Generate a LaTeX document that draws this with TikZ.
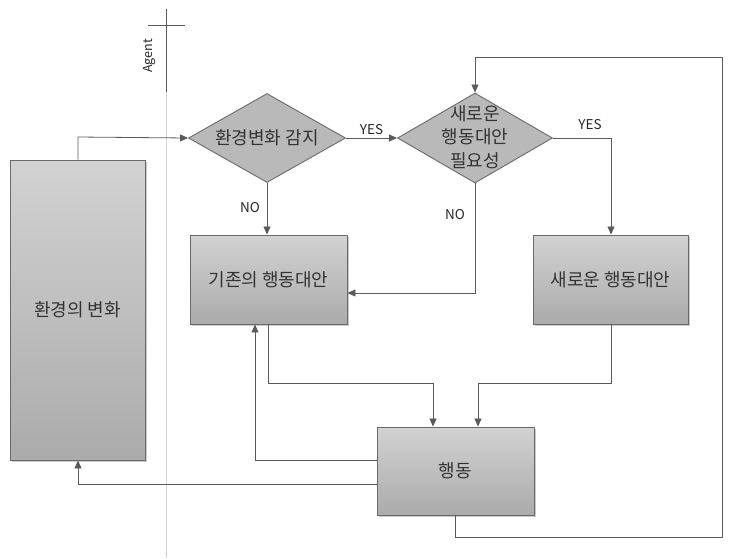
\documentclass[tikz,border=0pt]{standalone}
\usepackage{fontspec}
\setmainfont{Noto Sans CJK KR}
\usetikzlibrary{shapes.geometric,shadows,arrows.meta}
\definecolor{ln}{HTML}{5A5A5A}
\definecolor{bd}{HTML}{6A6A6A}
\definecolor{btop}{HTML}{D2D2D2}
\definecolor{bbot}{HTML}{ABABAB}
\definecolor{dfill}{HTML}{B9B9B9}
\tikzset{
  boxnode/.style={rectangle, draw=bd, line width=0.9pt, top color=btop, bottom color=bbot,
    inner sep=0pt, drop shadow={shadow xshift=2pt, shadow yshift=-2pt, fill=black!35, opacity=0.6},
    font=\fontsize{18}{22}\selectfont, text=black!80},
  dianode/.style={diamond, draw=bd, line width=0.9pt, fill=dfill, inner sep=0pt,
    minimum width=157pt, minimum height=89pt},
  dtext/.style={font=\fontsize{18}{22}\selectfont, text=black!80, align=center},
  lbl/.style={font=\fontsize{13.5}{16}\selectfont, text=black!85},
  conn/.style={draw=ln, line width=0.8pt},
  arr/.style={conn, -{Triangle[length=8pt,width=7pt]}},
}
\begin{document}
\begin{tikzpicture}[x=1pt,y=-1pt]
\useasboundingbox (0,0) rectangle (738,558);
% Agent lane
\draw[draw=black!18, line width=0.8pt] (166,92) -- (166,558);
\draw[draw=ln, line width=0.9pt] (166,9) -- (166,92);
\draw[draw=ln, line width=0.9pt] (148,25) -- (185,25);
\node[lbl, rotate=90, font=\fontsize{12.5}{14}\selectfont] (agent) at (149,56) {Agent};

% nodes
\node[boxnode, minimum width=135pt, minimum height=300pt] (env) at (77.5,310) {환경의 변화};
\node[dianode] (d1) at (267,138) {};
\node[dtext] (d1t) at (d1) {환경변화 감지};
\node[dianode, minimum width=155pt, minimum height=90pt] (d2) at (475,138) {};
\node[dtext, font=\fontsize{18}{23.5}\selectfont] (d2t) at (475,137) {새로운\\행동대안\\필요성};
\node[boxnode, minimum width=157pt, minimum height=89pt] (old) at (268.5,279.5) {기존의 행동대안};
\node[boxnode, minimum width=155pt, minimum height=89pt] (new) at (610.5,279.5) {새로운 행동대안};
\node[boxnode, minimum width=157pt, minimum height=88pt] (act) at (455.5,471) {행동};

% coordinates
\coordinate (c1) at (78,137);
\coordinate (c2) at (611,138);
\coordinate (c3) at (475,293);
\coordinate (c4) at (268,383);
\coordinate (c5) at (433,383);
\coordinate (c6) at (611,383);
\coordinate (c7) at (478,383);
\coordinate (c8) at (255,460);
\coordinate (c9) at (78,484);
\coordinate (c10) at (455,537);
\coordinate (c11) at (722,537);
\coordinate (c12) at (722,57);
\coordinate (c13) at (475,57);

% connectors
\draw[arr] (env.north -| c1) -- (c1) -- (d1.west);
\draw[arr] (d1.east) -- (d2.west) node[lbl, midway, above=0pt] {YES};
\draw[arr] (d2.east) -- (c2) -- (new.north -| c2);
\node[lbl] (yes2) at (590,125) {YES};
\draw[arr] (d1.south) -- (old.north -| d1.south);
\node[lbl] (no1) at (250,208) {NO};
\draw[arr] (d2.south) -- (c3) -- (old.east |- c3);
\node[lbl] (no2) at (455,215) {NO};
\draw[arr] (old.south -| c4) -- (c4) -- (c5) -- (act.north -| c5);
\draw[arr] (new.south -| c6) -- (c6) -- (c7) -- (act.north -| c7);
\draw[arr] (act.west |- c8) -- (c8) -- (old.south -| c8);
\draw[arr] (act.west |- c9) -- (c9) -- (env.south -| c9);
\draw[arr] (act.south -| c10) -- (c10) -- (c11) -- (c12) -- (c13) -- (d2.north);
\end{tikzpicture}
\end{document}
